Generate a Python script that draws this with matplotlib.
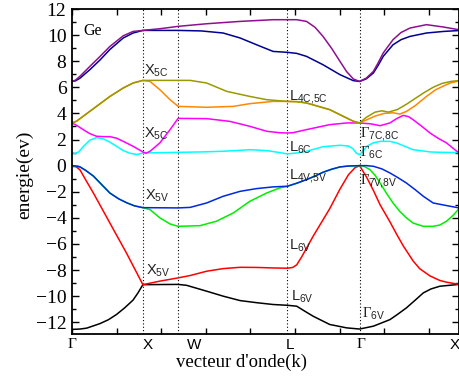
import numpy as np
import matplotlib.pyplot as plt
import matplotlib.transforms as mtransforms

plt.rcParams['mathtext.fontset'] = 'custom'
plt.rcParams['mathtext.rm'] = 'Liberation Serif'
plt.rcParams['mathtext.default'] = 'regular'

# high symmetry points along the path (x axis units)
sym_k = [1.59, 2.38, 4.83, 6.45]
label_k = [0, 1.70, 2.74, 4.89, 6.48, 8.59]
label_names = ['Γ', 'X', 'W', 'L', 'Γ', 'X']
k_max = 8.68

black_k = [0, 0.18, 0.33, 0.63, 0.82, 1.00, 1.18, 1.37, 1.48, 1.59, 2.38, 2.57, 3.02, 3.39, 3.77, 4.14, 4.51, 4.83, 5.04, 5.22, 5.41, 5.78, 6.16, 6.45, 6.76, 7.13, 7.3, 7.50, 7.7, 7.88, 8.05, 8.25, 8.68]
black_e = [-12.55, -12.52, -12.45, -12.1, -11.8, -11.4, -10.9, -10.3, -9.75, -9.12, -9.1, -9.17, -9.62, -10.0, -10.34, -10.5, -10.64, -10.7, -10.77, -11.15, -11.54, -12.17, -12.43, -12.52, -12.3, -11.8, -11.4, -10.9, -10.3, -9.75, -9.45, -9.24, -9.1]

red_k = [0, 0.09, 0.18, 0.3, 0.48, 0.85, 1.23, 1.59, 1.97, 2.38, 2.65, 3.02, 3.39, 3.77, 4.14, 4.51, 4.83, 4.95, 5.04, 5.15, 5.41, 5.78, 6.01, 6.2, 6.35, 6.45, 6.61, 6.76, 6.91, 7.13, 7.28, 7.43, 7.65, 7.8, 8.03, 8.25, 8.4, 8.68]
red_e = [0, -0.08, -0.33, -1.05, -2.1, -4.4, -6.75, -9.12, -8.85, -8.6, -8.42, -8.09, -7.89, -7.79, -7.8, -7.84, -7.86, -7.8, -7.6, -7.0, -5.4, -3.3, -1.8, -0.7, -0.15, 0, -0.9, -1.9, -3.0, -4.3, -5.25, -6.15, -7.3, -7.9, -8.45, -8.8, -8.93, -9.1]

green_k = [0, 0.09, 0.18, 0.3, 0.48, 0.65, 0.85, 1.05, 1.23, 1.4, 1.59, 1.75, 1.97, 2.2, 2.38, 2.87, 3.24, 3.62, 3.99, 4.37, 4.66, 4.83, 5.04, 5.26, 5.45, 5.63, 5.82, 6.01, 6.2, 6.45, 6.55, 6.68, 6.8, 6.91, 7.05, 7.2, 7.35, 7.5, 7.65, 7.88, 8.1, 8.25, 8.4, 8.55, 8.68]
green_e = [0, -0.03, -0.1, -0.35, -0.8, -1.4, -2.1, -2.55, -2.85, -3.08, -3.22, -3.37, -4.0, -4.47, -4.65, -4.6, -4.26, -3.62, -2.73, -2.09, -1.71, -1.58, -1.35, -1.07, -0.8, -0.51, -0.28, -0.1, -0.03, 0, -0.05, -0.3, -0.75, -1.33, -2.1, -2.86, -3.5, -4.0, -4.4, -4.65, -4.65, -4.55, -4.26, -3.8, -3.3]

blue_k = [0, 0.09, 0.18, 0.3, 0.48, 0.65, 0.85, 1.05, 1.23, 1.4, 1.59, 2.38, 2.65, 3.02, 3.39, 3.77, 4.14, 4.51, 4.83, 5.04, 5.26, 5.45, 5.63, 5.82, 6.01, 6.2, 6.45, 6.6, 6.76, 6.95, 7.13, 7.3, 7.5, 7.7, 7.88, 8.1, 8.4, 8.68]
blue_e = [0, -0.03, -0.1, -0.35, -0.8, -1.4, -2.1, -2.55, -2.85, -3.08, -3.22, -3.24, -3.2, -2.86, -2.35, -1.97, -1.76, -1.63, -1.58, -1.35, -1.07, -0.8, -0.51, -0.28, -0.1, -0.03, 0, 0, -0.05, -0.25, -0.56, -0.9, -1.33, -1.85, -2.35, -2.86, -3.06, -3.24]

cyan_k = [0, 0.06, 0.15, 0.25, 0.4, 0.55, 0.7, 0.85, 1.0, 1.15, 1.3, 1.45, 1.59, 2.38, 2.9, 3.39, 3.99, 4.37, 4.66, 4.83, 5.04, 5.26, 5.63, 6.01, 6.2, 6.3, 6.38, 6.45, 6.55, 6.61, 6.76, 6.91, 7.13, 7.28, 7.45, 7.65, 7.88, 8.03, 8.25, 8.68]
cyan_e = [1.0, 0.92, 1.05, 1.45, 1.95, 2.15, 2.05, 1.8, 1.48, 1.15, 0.95, 0.85, 0.97, 1.02, 1.05, 1.1, 1.22, 1.15, 1.0, 0.9, 0.97, 1.1, 1.45, 1.56, 1.5, 1.3, 0.95, 0.84, 1.2, 1.48, 1.75, 1.86, 1.86, 1.74, 1.5, 1.22, 1.12, 1.05, 1.02, 1.0]

magenta_k = [0, 0.12, 0.25, 0.4, 0.55, 0.7, 0.85, 1.0, 1.15, 1.37, 1.59, 1.66, 1.75, 1.97, 2.2, 2.38, 3.02, 3.54, 3.99, 4.37, 4.66, 4.83, 4.95, 5.26, 5.78, 6.16, 6.45, 6.7, 6.91, 7.13, 7.28, 7.43, 7.55, 7.65, 7.85, 8.03, 8.2, 8.4, 8.63, 8.68]
magenta_e = [3.27, 3.05, 2.76, 2.45, 2.25, 2.22, 2.22, 2.1, 1.86, 1.48, 1.05, 0.95, 1.1, 1.74, 2.76, 3.62, 3.6, 3.39, 3.01, 2.63, 2.52, 2.5, 2.52, 2.76, 3.14, 3.27, 3.27, 3.2, 3.06, 3.27, 3.6, 3.85, 3.75, 3.52, 3.0, 2.5, 2.12, 1.74, 1.1, 1.0]

orange_k = [0, 0.1, 0.25, 0.55, 0.85, 1.15, 1.37, 1.59, 1.75, 1.97, 2.2, 2.38, 3.02, 3.62, 3.99, 4.51, 4.83, 5.04, 5.26, 5.78, 6.16, 6.31, 6.45, 6.6, 6.8, 7.0, 7.2, 7.35, 7.5, 7.7, 7.95, 8.15, 8.33, 8.5, 8.68]
orange_e = [3.27, 3.4, 3.78, 4.54, 5.3, 5.95, 6.33, 6.53, 6.45, 5.82, 5.05, 4.54, 4.47, 4.54, 4.75, 4.92, 4.92, 4.9, 4.8, 4.29, 3.65, 3.4, 3.27, 3.5, 3.8, 4.0, 4.05, 3.95, 4.15, 4.6, 5.3, 5.8, 6.1, 6.35, 6.48]

olive_k = [0, 0.1, 0.25, 0.55, 0.85, 1.15, 1.37, 1.59, 2.38, 2.65, 3.02, 3.47, 3.99, 4.37, 4.83, 5.04, 5.26, 5.78, 6.16, 6.31, 6.45, 6.6, 6.8, 6.95, 7.1, 7.3, 7.5, 7.7, 7.9, 8.1, 8.3, 8.5, 8.68]
olive_e = [3.27, 3.4, 3.78, 4.54, 5.3, 5.95, 6.33, 6.53, 6.53, 6.53, 6.33, 5.69, 5.3, 5.05, 4.92, 4.9, 4.8, 4.29, 3.65, 3.4, 3.27, 3.7, 4.1, 4.2, 4.1, 4.3, 4.7, 5.15, 5.6, 6.0, 6.3, 6.45, 6.52]

navy_k = [0, 0.08, 0.18, 0.4, 0.63, 0.85, 1.15, 1.37, 1.59, 2.38, 2.9, 3.39, 3.77, 4.14, 4.51, 4.83, 5.04, 5.26, 5.63, 6.01, 6.31, 6.45, 6.6, 6.76, 6.87, 6.98, 7.2, 7.38, 7.58, 7.95, 8.33, 8.68]
navy_e = [6.45, 6.5, 6.7, 7.35, 8.1, 8.9, 9.78, 10.16, 10.36, 10.36, 10.32, 10.16, 9.78, 9.26, 8.75, 8.68, 8.6, 8.37, 7.73, 6.97, 6.51, 6.45, 6.65, 7.1, 7.7, 8.37, 9.26, 9.65, 9.9, 10.16, 10.28, 10.35]

purple_k = [0, 0.08, 0.18, 0.4, 0.63, 0.85, 1.15, 1.37, 1.59, 2.0, 2.38, 3.02, 3.77, 4.51, 4.83, 5.04, 5.26, 5.45, 5.63, 5.82, 6.01, 6.16, 6.31, 6.45, 6.6, 6.76, 6.87, 6.98, 7.2, 7.38, 7.58, 7.95, 8.33, 8.68]
purple_e = [6.45, 6.55, 6.85, 7.6, 8.37, 9.13, 9.95, 10.28, 10.36, 10.5, 10.67, 10.87, 11.05, 11.18, 11.18, 11.18, 11.05, 10.6, 9.9, 9.0, 7.99, 7.2, 6.64, 6.45, 6.7, 7.22, 7.9, 8.63, 9.65, 10.2, 10.54, 10.8, 10.62, 10.41]

bands = [
    (black_k, black_e, '#000000'),
    (red_k, red_e, '#ff0000'),
    (green_k, green_e, '#00ee00'),
    (blue_k, blue_e, '#0028e0'),
    (cyan_k, cyan_e, '#00ffff'),
    (magenta_k, magenta_e, '#ff00ff'),
    (orange_k, orange_e, '#ff8800'),
    (olive_k, olive_e, '#999900'),
    (navy_k, navy_e, '#000090'),
    (purple_k, purple_e, '#8e108e'),
]

# state labels: (k, E, letter, subscript)
notes = [
    (1.61, 6.97, 'X', '5C'), (1.61, 2.14, 'X', '5C'),
    (1.64, -2.6, 'X', '5V'), (1.66, -8.35, 'X', '5V'),
    (4.87, 5.05, 'L', '4C{,}5C'), (4.87, 1.07, 'L', '6C'),
    (4.87, -1.05, 'L', '4V{,}5V'), (4.87, -6.43, 'L', '6V'),
    (4.91, -10.35, 'L', '6V'),
    (6.46, 2.22, 'G', '7C{,}8C'), (6.46, 0.69, 'G', '6C'),
    (6.46, -1.45, 'G', '7V{,}8V'), (6.5, -11.64, 'G', '6V'),
]

fig = plt.figure(figsize=(4.6, 3.81), dpi=100)
ax = fig.add_axes([72 / 460, 1 - 334 / 381, 387 / 460, 325 / 381])

for k in sym_k:
    ax.axvline(k, color='black', lw=0.8, ls=(0, (1, 2)), zorder=1)

for k, e, c in bands:
    ax.plot(k, e, color=c, lw=1.1, zorder=2)

ax.set_xlim(0, k_max)
ax.set_ylim(-12.9, 12)
ax.set_yticks(np.arange(-12, 13, 2))
ax.set_yticks(np.arange(-12, 13, 1), minor=True)
ax.set_xticks(np.arange(0, 9, 1))
ax.set_xticklabels([])
ax.tick_params(axis='y', which='major', direction='in', length=5, width=1,
               left=True, right=True, pad=4, labelsize=14)
ax.tick_params(axis='y', which='minor', direction='in', length=3, width=1,
               left=True, right=True)
ax.tick_params(axis='x', which='major', direction='in', length=4.3, width=1,
               top=True, bottom=True)
for lab in ax.get_yticklabels():
    lab.set_family('Liberation Serif')
for sp in ax.spines.values():
    sp.set_linewidth(1.3)

trans = mtransforms.blended_transform_factory(ax.transData, ax.transAxes)
for k, name in zip(label_k, label_names):
    fam = 'Liberation Serif' if name == 'Γ' else 'Liberation Sans'
    ax.text(k, -0.012, name, transform=trans, ha='center', va='top',
            family=fam, fontsize=11)

for k, e, letter, sub in notes:
    if letter == 'G':
        s = r'$\mathrm{\Gamma}_{' + sub + '}$'
    else:
        s = '$' + letter + '_{' + sub + '}$'
    ax.text(k, e, s, family='Liberation Sans', fontsize=10.5, va='baseline',
            ha='left', color='#222222', zorder=3)

ax.text(0.25, 10.03, 'Ge', family='Liberation Serif', fontsize=11.5,
        va='baseline')

ax.set_xlabel("vecteur d'onde(k)", family='Liberation Serif', fontsize=13.5)
ax.xaxis.set_label_coords(0.437, -0.062)
ax.xaxis.label.set_va('top')
ax.set_ylabel('energie(ev)', family='Liberation Serif', fontsize=14)
ax.yaxis.set_label_coords(-0.10, 0.49)

fig.savefig('out.png', dpi=100)
